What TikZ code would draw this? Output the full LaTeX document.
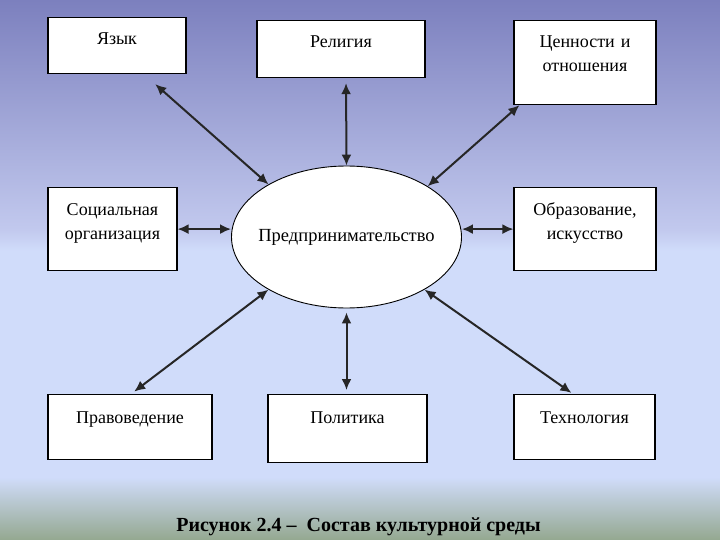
\documentclass[tikz,border=0pt]{standalone}
\usepackage{fontspec}
\setmainfont{Liberation Serif}
\usepackage{tikz}
\usetikzlibrary{positioning, arrows.meta, shapes.geometric}
\usepackage{xcolor}
\definecolor{bgtop}{RGB}{124,128,190}
\definecolor{bgmid}{RGB}{194,201,238}
\definecolor{bglight}{RGB}{208,220,250}
\definecolor{bgbot}{RGB}{148,168,144}
\pgfdeclareverticalshading{bgshade}{100bp}{color(0bp)=(bgbot); color(25bp)=(bgbot);
  color(30.8bp)=(bglight); color(51.8bp)=(bglight); color(53.7bp)=(bgmid);
  color(75bp)=(bgtop); color(100bp)=(bgtop)}
\tikzset{
  box/.style={rectangle, draw=black, fill=white, line width=1.2pt,
              inner sep=0pt, anchor=north, align=center,
              text height=27pt, font=\fontsize{18}{24}\selectfont},
  oval/.style={ellipse, draw=black, fill=white, line width=0.9pt,
               minimum width=230pt, minimum height=142pt,
               inner xsep=-12pt, inner ysep=0pt,
               font=\fontsize{18.5}{22}\selectfont},
  arr/.style={{Latex[length=11pt,width=10pt]}-{Latex[length=11pt,width=10pt]},
              line width=2pt, color=black!85},
}
\begin{document}
\begin{tikzpicture}[x=1pt, y=-1pt]
  \useasboundingbox (0,0) rectangle (720,540);
  \shade[shading=bgshade] (0,0) rectangle (720,540);
  % boxes round the centre
  \node[box, text width=138pt, text depth=29pt] (yaz) at (117,17) {Язык};
  \node[box, text width=168pt, text depth=30pt] (rel) at (341,20) {Религия};
  \node[box, text width=142pt, text depth=57pt] (cen) at (585,20)
        {Ценности и\\отношения};
  \node[box, text width=129pt, text height=28pt, text depth=55pt] (soc) at (112.5,187)
        {Социальная\\организация};
  \node[oval] (ent) at (346.5,237) {Предпринимательство};
  \node[box, text width=142pt, text height=28pt, text depth=55pt] (obr) at (585,187)
        {Образование,\\искусство};
  \node[box, text width=164pt, text height=29pt, text depth=36pt] (pra) at (130,394)
        {Правоведение};
  \node[box, text width=159pt, text height=29pt, text depth=39pt] (pol) at (347.5,394)
        {Политика};
  \node[box, text width=141pt, text height=29pt, text depth=36pt] (tex) at (584.5,394)
        {Технология};
  % caption
  \node[anchor=base, font=\fontsize{20}{24}\selectfont\bfseries] (cap) at (358.5,531)
        {Рисунок 2.4 –~~Состав культурной среды};
  % links
  \draw[arr, shorten <=15pt] ([xshift=27pt]yaz.south) -- (ent.146);
  \draw[arr, shorten <=5pt] ([xshift=5pt]rel.south) -- (ent.north);
  \draw[arr] ([xshift=6pt]cen.south west) -- (ent.32);
  \draw[arr] (soc.east) -- (soc.east -| ent.west);
  \draw[arr] (obr.west) -- (obr.west -| ent.east);
  \draw[arr, shorten >=4pt] (ent.214) -- ([xshift=1pt]pra.north);
  \draw[arr, shorten <=4pt, shorten >=4pt] (ent.south) -- (ent.south |- pol.north);
  \draw[arr, shorten >=2pt] (ent.326) -- ([xshift=-11.5pt]tex.north);
\end{tikzpicture}
\end{document}
